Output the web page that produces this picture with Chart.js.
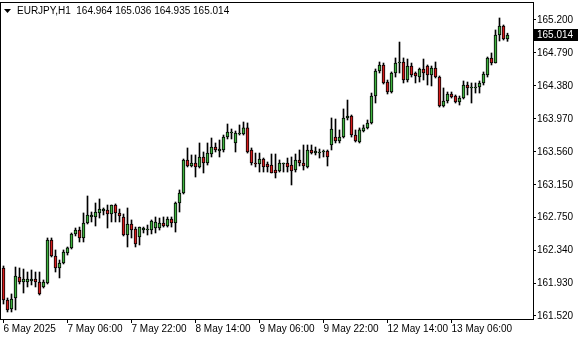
<!DOCTYPE html>
<html><head><meta charset="utf-8">
<script src="https://cdn.jsdelivr.net/npm/chart.js@4/dist/chart.umd.min.js"></script>
<style>html,body{margin:0;padding:0;background:#fff;}#wrap{width:580px;height:340px;}</style>
</head><body><div id="wrap"><canvas id="c" width="580" height="340"></canvas></div>
<script>
const symbol = 'EURJPY,H1';
const openP = [162.117,161.719,161.607,161.744,162.005,161.943,161.943,161.955,161.980,161.943,
161.881,161.930,162.465,162.266,162.117,162.179,162.303,162.366,162.540,162.589,
162.490,162.676,162.751,162.751,162.801,162.826,162.838,162.788,162.900,162.801,
162.751,162.527,162.664,162.602,162.502,162.589,162.589,162.589,162.614,162.614,
162.676,162.639,162.726,162.676,162.925,163.049,163.460,163.385,163.422,163.373,
163.497,163.422,163.534,163.621,163.571,163.584,163.745,163.795,163.671,163.783,
163.783,163.858,163.584,163.422,163.410,163.472,163.410,163.397,163.335,163.323,
163.410,163.422,163.397,163.335,163.460,163.422,163.373,163.584,163.546,163.546,
163.559,163.571,163.646,163.745,163.696,163.745,163.982,164.007,163.770,163.683,
163.820,163.858,163.920,164.255,164.566,164.641,164.429,164.305,164.541,164.665,
164.678,164.454,164.628,164.541,164.491,164.591,164.628,164.516,164.603,164.491,
164.131,164.193,164.280,164.255,164.181,164.230,164.392,164.355,164.355,164.367,
164.417,164.516,164.728,164.665,165.014,165.125,164.964];
const highP = [162.142,161.744,161.794,162.129,162.117,162.104,162.067,162.092,162.067,162.067,
161.968,162.490,162.490,162.341,162.216,162.341,162.378,162.552,162.614,162.626,
162.801,163.012,162.813,162.925,162.975,162.863,162.900,162.900,162.913,162.850,
162.788,162.863,162.714,162.626,162.626,162.626,162.651,162.714,162.751,162.738,
162.751,162.751,162.751,162.937,163.087,163.472,163.609,163.522,163.522,163.671,
163.559,163.671,163.733,163.671,163.708,163.770,163.907,163.845,163.820,163.895,
163.932,163.920,163.609,163.546,163.546,163.484,163.435,163.534,163.534,163.460,
163.422,163.484,163.497,163.534,163.584,163.646,163.646,163.646,163.621,163.596,
163.584,163.584,163.982,163.969,163.833,164.094,164.205,164.019,163.833,163.858,
163.895,163.957,164.292,164.591,164.678,164.665,164.454,164.554,164.728,164.926,
164.728,164.715,164.665,164.554,164.603,164.715,164.641,164.628,164.678,164.504,
164.355,164.305,164.305,164.268,164.255,164.442,164.429,164.417,164.417,164.442,
164.554,164.740,164.790,165.076,165.225,165.138,165.036];
const lowP = [161.669,161.570,161.570,161.595,161.918,161.806,161.881,161.906,161.881,161.781,
161.868,161.918,162.254,162.067,161.993,162.167,162.278,162.353,162.515,162.440,
162.440,162.664,162.689,162.639,162.738,162.776,162.614,162.689,162.689,162.689,
162.515,162.378,162.490,162.378,162.403,162.552,162.527,162.540,162.552,162.589,
162.626,162.626,162.626,162.564,162.813,163.037,163.373,163.373,163.248,163.360,
163.298,163.397,163.497,163.559,163.497,163.559,163.721,163.721,163.559,163.770,
163.770,163.546,163.397,163.373,163.310,163.310,163.310,163.298,163.236,163.310,
163.310,163.310,163.149,163.310,163.385,163.335,163.360,163.534,163.522,163.484,
163.497,163.385,163.584,163.671,163.671,163.733,163.957,163.745,163.683,163.671,
163.808,163.845,163.907,164.168,164.541,164.404,164.280,164.292,164.491,164.541,
164.417,164.429,164.491,164.417,164.429,164.454,164.392,164.380,164.479,164.118,
164.118,164.168,164.230,164.168,164.143,164.218,164.268,164.168,164.292,164.292,
164.392,164.491,164.641,164.665,164.939,164.951,164.935];
const closeP = [161.719,161.595,161.731,162.017,161.943,161.980,161.980,161.980,161.943,161.794,
161.943,162.465,162.266,162.117,162.179,162.316,162.366,162.540,162.589,162.490,
162.676,162.776,162.776,162.813,162.850,162.850,162.788,162.900,162.801,162.763,
162.527,162.664,162.589,162.415,162.626,162.614,162.595,162.701,162.689,162.676,
162.639,162.726,162.676,162.925,163.049,163.460,163.385,163.422,163.373,163.497,
163.422,163.546,163.621,163.584,163.596,163.745,163.808,163.808,163.795,163.795,
163.858,163.559,163.422,163.410,163.472,163.373,163.373,163.298,163.298,163.422,
163.422,163.373,163.323,163.460,163.422,163.385,163.584,163.546,163.571,163.559,
163.571,163.497,163.845,163.696,163.745,163.982,164.007,163.770,163.696,163.833,
163.858,163.920,164.255,164.566,164.641,164.417,164.305,164.541,164.665,164.678,
164.454,164.628,164.516,164.504,164.591,164.541,164.516,164.603,164.491,164.131,
164.193,164.280,164.243,164.181,164.230,164.392,164.355,164.367,164.367,164.417,
164.529,164.728,164.665,165.014,165.125,164.964,165.014];
const tickIdx = [0,16,32,48,64,80,96,112];
const tickLabels = ['6 May 2025','7 May 06:00','7 May 22:00','8 May 14:00','9 May 06:00','9 May 22:00','12 May 14:00','13 May 06:00'];
const yTicks = [165.200,164.790,164.380,163.970,163.560,163.150,162.750,162.340,161.930,161.520];

const UP = '#3fb23f', DOWN = '#d41c1c';
Chart.defaults.font.family = "'Liberation Sans', Arial, sans-serif";
Chart.defaults.font.size = 10;
Chart.defaults.color = '#000';

const wicks = openP.map((o, i) => ({x: i, y: [lowP[i], highP[i]]}));
const bodies = openP.map((o, i) => ({x: i, y: [o, closeP[i]]}));
const bodyColors = openP.map((o, i) => closeP[i] < o ? DOWN : UP);

const decor = {
  id: 'decor',
  afterDraw(chart) {
    const ctx = chart.ctx, a = chart.chartArea;
    ctx.save();
    ctx.strokeStyle = '#000'; ctx.lineWidth = 1;
    ctx.strokeRect(a.left - 0.5, a.top + 0.5, a.right - a.left + 1, a.bottom - a.top);
    const n = openP.length - 1;
    ctx.fillStyle = '#000';
    ctx.beginPath();
    ctx.moveTo(a.left + 3, a.top + 7); ctx.lineTo(a.left + 10, a.top + 7); ctx.lineTo(a.left + 6.5, a.top + 11);
    ctx.closePath(); ctx.fill();
    ctx.font = "10px 'Liberation Sans', Arial, sans-serif";
    ctx.textBaseline = 'middle'; ctx.textAlign = 'left';
    ctx.fillText(symbol + '  ' + openP[n].toFixed(3) + ' ' + highP[n].toFixed(3) + ' ' + lowP[n].toFixed(3) + ' ' + closeP[n].toFixed(3), a.left + 16, a.top + 9.5);
    const y = Math.round(chart.scales.y.getPixelForValue(closeP[n]));
    ctx.fillStyle = '#000';
    ctx.fillRect(a.right + 1, y - 6, 44, 12);
    ctx.fillStyle = '#fff';
    ctx.fillText(closeP[n].toFixed(3), a.right + 4, y);
    ctx.restore();
  }
};

new Chart(document.getElementById('c'), {
  type: 'bar',
  data: {
    datasets: [
      {data: bodies, backgroundColor: bodyColors, borderColor: '#000', borderWidth: 1, borderSkipped: false,
       barThickness: 3, minBarLength: 1, grouped: false, order: 0},
      {data: wicks, backgroundColor: '#000', borderWidth: 0, barThickness: 1, grouped: false, order: 1}
    ]
  },
  options: {
    responsive: false, animation: false, devicePixelRatio: 1,
    layout: {padding: {left: 1, top: 2, right: 0, bottom: 0}},
    plugins: {legend: {display: false}, tooltip: {enabled: false}},
    scales: {
      x: {
        type: 'linear', min: -0.625, max: 132.375, offset: false,
        grid: {display: true, drawOnChartArea: false, drawTicks: true, tickLength: 4, tickColor: '#000', offset: false},
        border: {display: false},
        ticks: {autoSkip: false, maxRotation: 0, minRotation: 0, align: 'start', padding: 0, color: '#000',
                callback: (v, i) => tickLabels[i]},
        afterBuildTicks: s => { s.ticks = tickIdx.map(v => ({value: v})); },
        afterFit: s => { s.height = 21; s.paddingLeft = 0; s.paddingRight = 0; }
      },
      y: {
        type: 'linear', position: 'right', min: 161.4827, max: 165.42378,
        grid: {display: true, drawOnChartArea: false, drawTicks: true, tickLength: 3, tickColor: '#000'},
        border: {display: false},
        ticks: {padding: 1, color: '#000', callback: v => Number(v).toFixed(3)},
        afterBuildTicks: s => { s.ticks = yTicks.map(v => ({value: v})); },
        afterFit: s => { s.width = 47; s.paddingTop = 0; s.paddingBottom = 0; }
      }
    }
  },
  plugins: [decor]
});
</script>
</body></html>
